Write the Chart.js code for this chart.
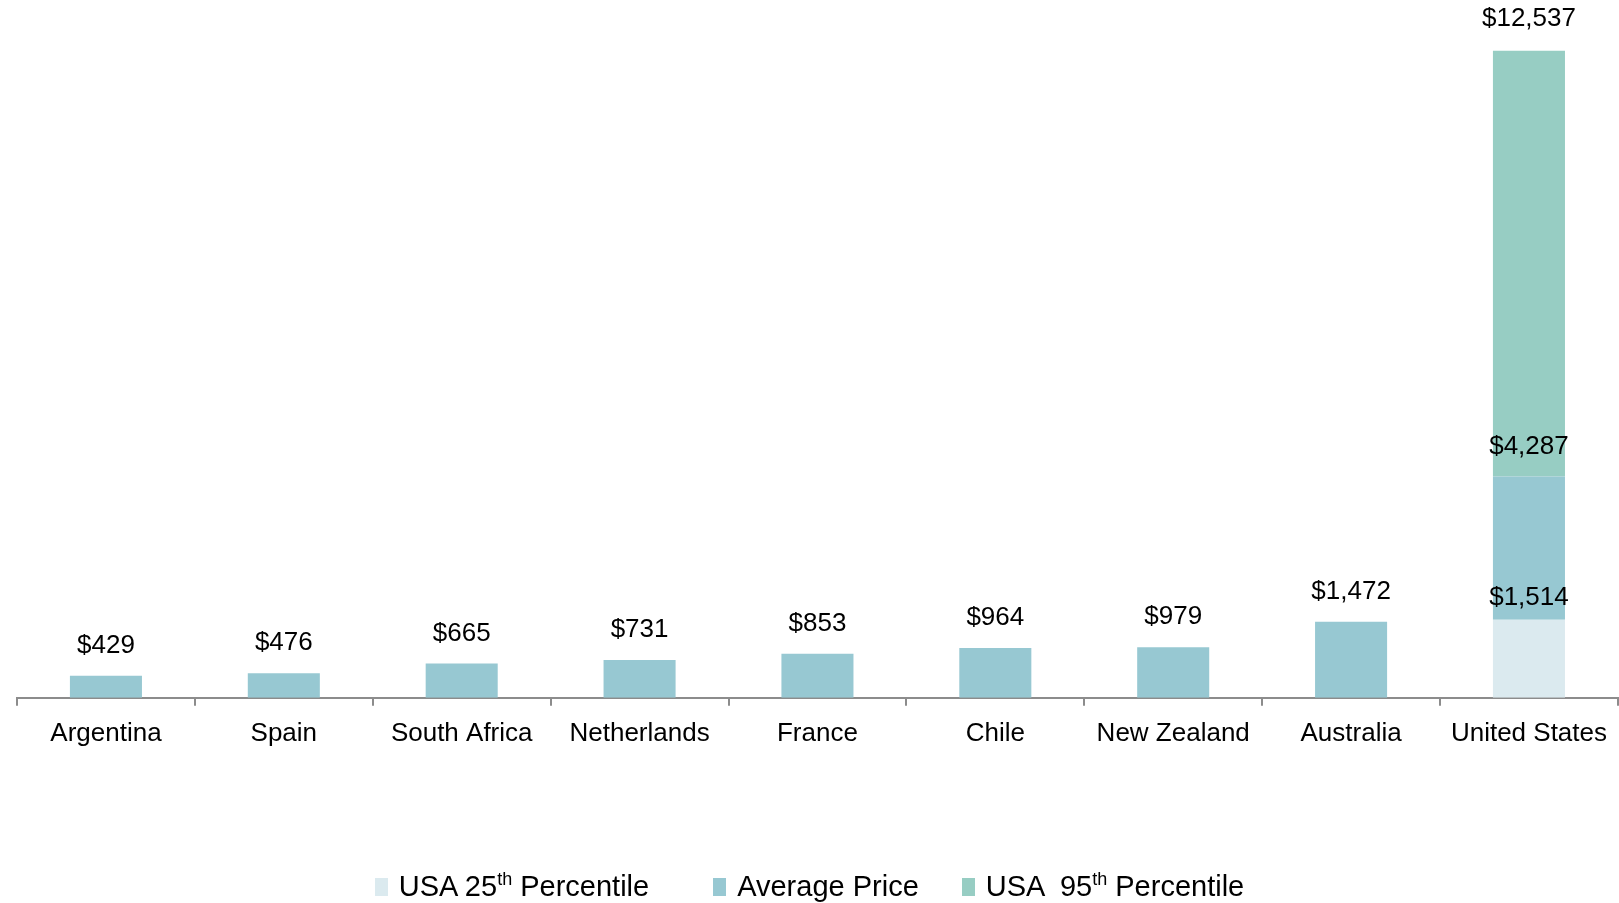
<!DOCTYPE html>
<html>
<head>
<meta charset="utf-8">
<script src="https://cdn.jsdelivr.net/npm/chart.js@4"></script>
<style>
  body { margin: 0; background: #fff; overflow: hidden; }
  #wrap { position: relative; width: 1619px; height: 903px; }
  #leyenda {
    position: absolute; left: 0; top: 870px; width: 1619px;
    display: flex; justify-content: center; align-items: center;
    font-family: "Liberation Sans", Arial, sans-serif; font-size: 29px; color: #000;
  }
  #leyenda .item { display: flex; align-items: center; white-space: pre; }
  #leyenda .item:nth-child(1) { margin-right: 64px; }
  #leyenda .item:nth-child(2) { margin-right: 43px; }
  #leyenda .caja { width: 13px; height: 18px; margin-right: 11px; }
  #leyenda sup { font-size: 18px; vertical-align: 11px; line-height: 0; }
</style>
</head>
<body>
<div id="wrap">
  <canvas id="grafica-precios" width="1619" height="903"></canvas>
  <div id="leyenda"></div>
</div>
<script>
const paises = ['Argentina', 'Spain', 'South Africa', 'Netherlands', 'France', 'Chile', 'New Zealand', 'Australia', 'United States'];
const precioPromedio = [429, 476, 665, 731, 853, 964, 979, 1472, 4287];
const usa25 = 1514;
const usa95 = 12537;

const colores = {
  p25: '#dbeaef',
  promedio: '#97c8d2',
  p95: '#97cdc3'
};

const ultimo = paises.length - 1;

// barras flotantes [inicio, fin] para que la de EE.UU. quede apilada
const datos25 = paises.map((p, i) => i === ultimo ? [0, usa25] : null);
const datosPromedio = precioPromedio.map((v, i) => i === ultimo ? [usa25, v] : [0, v]);
const datos95 = paises.map((p, i) => i === ultimo ? [precioPromedio[ultimo], usa95] : null);

function formatoDolar(v) {
  return '$' + v.toLocaleString('en-US');
}

const etiquetas = {
  id: 'etiquetas',
  afterDatasetsDraw(chart) {
    const ctx = chart.ctx;
    ctx.save();
    ctx.font = '26px "Liberation Sans", Arial, sans-serif';
    ctx.fillStyle = '#000';
    ctx.textAlign = 'center';
    ctx.textBaseline = 'middle';
    chart.data.datasets.forEach((ds, di) => {
      const meta = chart.getDatasetMeta(di);
      meta.data.forEach((bar, i) => {
        const v = ds.data[i];
        if (!v) return;
        ctx.fillText(formatoDolar(v[1]), bar.x, bar.y - ds.offsetEtiqueta);
      });
    });
    ctx.restore();
  }
};

function generarLeyenda(chart) {
  const cont = document.getElementById('leyenda');
  chart.data.datasets.forEach(ds => {
    const item = document.createElement('div');
    item.className = 'item';
    const caja = document.createElement('span');
    caja.className = 'caja';
    caja.style.background = ds.backgroundColor;
    const texto = document.createElement('span');
    texto.innerHTML = ds.label.replace(/(\d)th/, '$1<sup>th</sup>');
    item.appendChild(caja);
    item.appendChild(texto);
    cont.appendChild(item);
  });
}

const ctx = document.getElementById('grafica-precios').getContext('2d');
const grafica = new Chart(ctx, {
  type: 'bar',
  data: {
    labels: paises,
    datasets: [{
      label: 'USA 25th Percentile',
      data: datos25,
      backgroundColor: colores.p25,
      offsetEtiqueta: 22
    }, {
      label: 'Average Price',
      data: datosPromedio,
      backgroundColor: colores.promedio,
      offsetEtiqueta: 30
    }, {
      label: 'USA  95th Percentile',
      data: datos95,
      backgroundColor: colores.p95,
      offsetEtiqueta: 32
    }]
  },
  options: {
    responsive: false,
    animation: false,
    layout: { padding: { left: 17, right: 0, top: 0, bottom: 142 } },
    datasets: { bar: { barPercentage: 1, categoryPercentage: 0.405, grouped: false } },
    plugins: {
      legend: { display: false },
      tooltip: { enabled: false }
    },
    scales: {
      x: {
        stacked: true,
        offset: true,
        grid: { display: true, drawOnChartArea: false, tickLength: 8, color: '#8c8c8c', lineWidth: 2, offset: true },
        border: { color: '#8c8c8c', width: 2 },
        ticks: {
          color: '#000',
          padding: 12,
          maxRotation: 0,
          autoSkip: false,
          font: { family: '"Liberation Sans", Arial, sans-serif', size: 26 }
        }
      },
      y: {
        display: false,
        min: 0,
        max: 13520
      }
    }
  },
  plugins: [etiquetas]
});

generarLeyenda(grafica);
</script>
</body>
</html>
